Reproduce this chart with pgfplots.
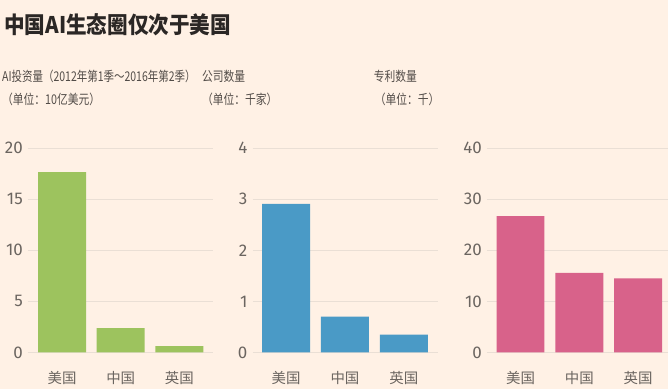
\documentclass[border=0pt]{standalone}
\usepackage{graphicx}
\usepackage{fontspec}
\setmainfont{Fira Sans}
\newfontfamily\cjk{Noto Sans CJK SC}
\usepackage{pgfplots}
\pgfplotsset{compat=1.18}
\definecolor{bg}{HTML}{FFF1E5}
\definecolor{gridc}{HTML}{EADFD5}
\definecolor{zeroc}{HTML}{DCD1C7}
\definecolor{tickc}{HTML}{6B6560}
\definecolor{subc}{HTML}{524C48}
\definecolor{titlec}{HTML}{2B2725}
\definecolor{cgreen}{HTML}{9DC35E}
\definecolor{cblue}{HTML}{4A9AC6}
\definecolor{cpink}{HTML}{D8628A}
\pgfplotsset{
  panel/.style={
    scale only axis, height=204.4bp, ymin=0,
    enlargelimits=false,
    axis line style={draw=none},
    tick style={draw=none},
    ybar, bar width=48bp, bar shift=0pt,
    xtick={0,1,2}, xticklabels={美国,中国,英国},
    xticklabel style={font=\cjk\fontsize{14.5}{14.5}\selectfont, text=tickc, anchor=north, inner sep=0pt, yshift=-14bp},
    ymajorgrids, grid style={draw=gridc, line width=0.9bp},
    yticklabel style={font=\fontsize{17}{17}\selectfont, text=tickc, anchor=east, inner sep=0pt, xshift=-5bp},
    /pgf/number format/assume math mode=true,
    clip=false,
  }
}
\begin{document}
\begin{tikzpicture}
\fill[bg] (0,0) rectangle (668bp,-389bp);
% titles
\node[anchor=west, inner sep=0pt, text=titlec] at (4bp,-25bp) {\scalebox{0.9}[1]{\cjk\bfseries\fontsize{23}{23}\selectfont 中国AI生态圈仅次于美国}};
\node[anchor=west, inner sep=0pt, text=subc] at (2bp,-76bp) {\scalebox{0.78}[1]{\cjk\fontsize{13.5}{13.5}\selectfont AI投资量（2012年第1季～2016年第2季）}};
\node[anchor=west, inner sep=0pt, text=subc] at (2bp,-99bp) {\scalebox{0.8}[1]{\cjk\fontsize{13.5}{13.5}\selectfont （单位：10亿美元）}};
\node[anchor=west, inner sep=0pt, text=subc] at (202bp,-76bp) {\scalebox{0.8}[1]{\cjk\fontsize{13.5}{13.5}\selectfont 公司数量}};
\node[anchor=west, inner sep=0pt, text=subc] at (202bp,-99bp) {\scalebox{0.8}[1]{\cjk\fontsize{13.5}{13.5}\selectfont （单位：千家）}};
\node[anchor=west, inner sep=0pt, text=subc] at (374bp,-76bp) {\scalebox{0.8}[1]{\cjk\fontsize{13.5}{13.5}\selectfont 专利数量}};
\node[anchor=west, inner sep=0pt, text=subc] at (375bp,-99bp) {\scalebox{0.8}[1]{\cjk\fontsize{13.5}{13.5}\selectfont （单位：千）}};
% panel 1
\begin{axis}[panel, at={(28bp,-352.7bp)}, anchor=south west, width=185bp,
  xmin=-0.58, xmax=2.57, ymax=20, ytick={0,5,10,15,20}]
\addplot[fill=cgreen, draw=none] coordinates {(0,17.65) (1,2.39) (2,0.63)};
\end{axis}
% panel 2
\begin{axis}[panel, at={(252.7bp,-352.7bp)}, anchor=south west, width=185.6bp,
  xmin=-0.57, xmax=2.58, ymax=4, ytick={0,1,2,3,4}]
\addplot[fill=cblue, draw=none] coordinates {(0,2.91) (1,0.70) (2,0.35)};
\end{axis}
% panel 3
\begin{axis}[panel, at={(487.3bp,-352.7bp)}, anchor=south west, width=180.7bp,
  xmin=-0.57, xmax=2.5, ymax=40, ytick={0,10,20,30,40}]
\addplot[fill=cpink, draw=none] coordinates {(0,26.7) (1,15.6) (2,14.5)};
\end{axis}
\end{tikzpicture}
\end{document}
